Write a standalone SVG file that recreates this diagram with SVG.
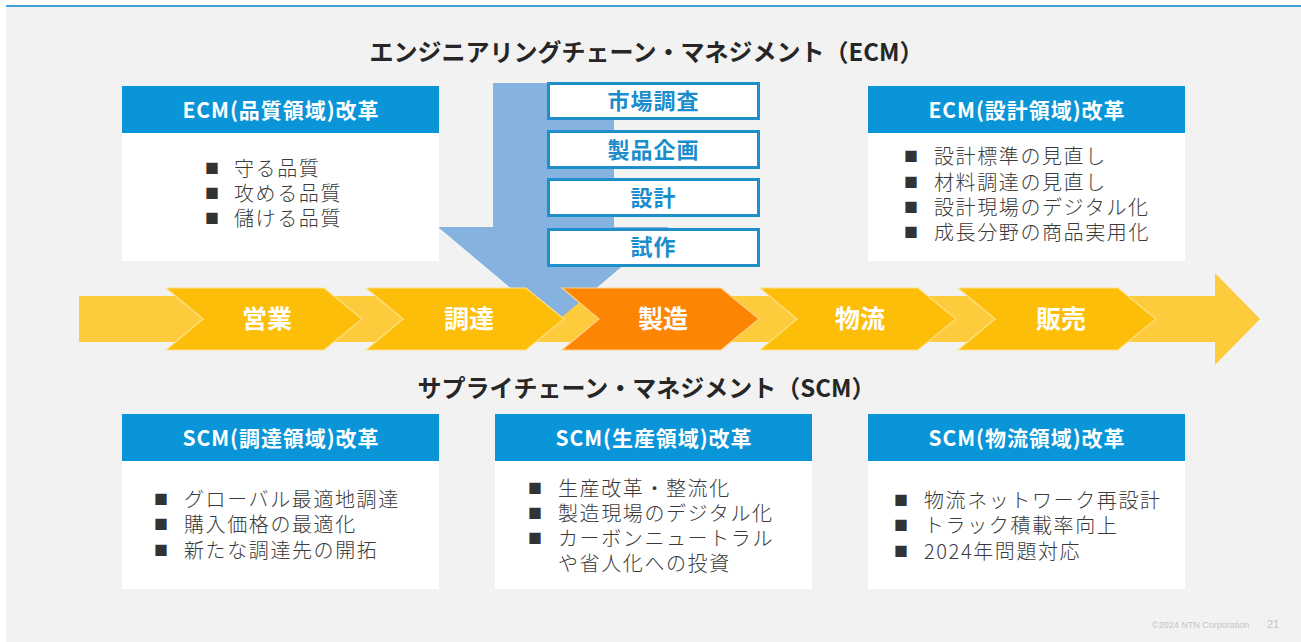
<svg xmlns="http://www.w3.org/2000/svg" width="1301" height="642" viewBox="0 0 1301 642">
<style>
.jp{font-family:"Noto Sans CJK JP","Noto Sans",sans-serif}
.title{font-size:24px;font-weight:bold;fill:#262626;text-anchor:middle}
.hdr{fill:#0a95d8}
.body{fill:#ffffff}
.htxt{font-size:21px;font-weight:bold;fill:#ffffff;text-anchor:middle}
.item{font-size:20px;font-weight:300;fill:#3a3a3a;letter-spacing:1.6px}
.blt{font-size:14px;fill:#333333}
.stage{fill:#ffffff;stroke:#1f8fca;stroke-width:3}
.stxt{font-size:22px;font-weight:bold;fill:#1b8dcd;text-anchor:middle;letter-spacing:1px}
.chev{fill:#fdbe0a;stroke:#ffe08a;stroke-width:1.2}
.chevo{fill:#fc8604;stroke:#ffd08a;stroke-width:1.2}
.ctxt{font-size:25px;font-weight:bold;fill:#ffffff;text-anchor:middle}
</style>
<rect x="0" y="0" width="1301" height="642" fill="#ffffff"/>
<rect x="6" y="5" width="1295" height="637" fill="#f2f2f2"/>
<rect x="6" y="5" width="1295" height="2" fill="#3f9fd6"/>

<text class="jp title" x="646.5" y="61">エンジニアリングチェーン・マネジメント（ECM）</text>
<text class="jp title" x="646.5" y="397">サプライチェーン・マネジメント（SCM）</text>

<g id="connectors">
  <path id="flow-band" d="M79,296 H1215 V273 L1260,319 L1215,365 V342 H79 Z" fill="#fecb3c"/>
  <path id="ecm-arrow" d="M493,83 H614 V227 H669 L553.5,324 L438,227 H493 Z" fill="#86b2df"/>
</g>

<g id="step-eigyo">
  <polygon class="chev" points="166,288 324,288 362,319 324,350 166,350 203,319"/>
  <text class="jp ctxt" x="267" y="328">営業</text>
</g>
<g id="step-chotatsu">
  <polygon class="chev" points="366,288 526,288 564,319 526,350 366,350 403,319"/>
  <text class="jp ctxt" x="469" y="328">調達</text>
</g>
<g id="step-seizo">
  <polygon class="chevo" points="562,288 721,288 759,319 721,350 562,350 599,319"/>
  <text class="jp ctxt" x="663" y="328">製造</text>
</g>
<g id="step-butsuryu">
  <polygon class="chev" points="760,288 918,288 956,319 918,350 760,350 797,319"/>
  <text class="jp ctxt" x="860" y="328">物流</text>
</g>
<g id="step-hanbai">
  <polygon class="chev" points="958,288 1118,288 1156,319 1118,350 958,350 995,319"/>
  <text class="jp ctxt" x="1061" y="328">販売</text>
</g>

<g id="stage-shijo">
  <rect class="stage" x="548.5" y="83.5" width="210" height="35"/>
  <text class="jp stxt" x="653.5" y="109.4">市場調査</text>
</g>
<g id="stage-kikaku">
  <rect class="stage" x="548.5" y="131.5" width="210" height="36"/>
  <text class="jp stxt" x="653.5" y="157.9">製品企画</text>
</g>
<g id="stage-sekkei">
  <rect class="stage" x="548.5" y="179.5" width="210" height="36"/>
  <text class="jp stxt" x="653.5" y="206.4">設計</text>
</g>
<g id="stage-shisaku">
  <rect class="stage" x="548.5" y="229.5" width="210" height="36"/>
  <text class="jp stxt" x="653.5" y="255.4">試作</text>
</g>

<g id="ecm-quality">
  <rect class="body" x="122" y="86" width="317" height="175"/>
  <rect class="hdr" x="122" y="86" width="317" height="47"/>
  <text class="jp htxt" x="280.5" y="117.5" textLength="196" lengthAdjust="spacing">ECM(品質領域)改革</text>
  <text class="jp blt" x="205" y="173.3">■</text>
  <text class="jp item" x="234" y="175.6">守る品質</text>
  <text class="jp blt" x="205" y="198.3">■</text>
  <text class="jp item" x="234" y="200.6">攻める品質</text>
  <text class="jp blt" x="205" y="223.3">■</text>
  <text class="jp item" x="234" y="225.6">儲ける品質</text>
</g>

<g id="ecm-design">
  <rect class="body" x="868" y="86" width="317" height="175"/>
  <rect class="hdr" x="868" y="86" width="317" height="47"/>
  <text class="jp htxt" x="1026.5" y="117.5" textLength="196" lengthAdjust="spacing">ECM(設計領域)改革</text>
  <text class="jp blt" x="904" y="161.3">■</text>
  <text class="jp item" x="934" y="163.6">設計標準の見直し</text>
  <text class="jp blt" x="904" y="187.3">■</text>
  <text class="jp item" x="934" y="189.6">材料調達の見直し</text>
  <text class="jp blt" x="904" y="212.3">■</text>
  <text class="jp item" x="934" y="214.6">設計現場のデジタル化</text>
  <text class="jp blt" x="904" y="237.3">■</text>
  <text class="jp item" x="934" y="239.6">成長分野の商品実用化</text>
</g>

<g id="scm-procurement">
  <rect class="body" x="122" y="414" width="317" height="175"/>
  <rect class="hdr" x="122" y="414" width="317" height="47"/>
  <text class="jp htxt" x="280.5" y="445.5" textLength="196" lengthAdjust="spacing">SCM(調達領域)改革</text>
  <text class="jp blt" x="154" y="504.3">■</text>
  <text class="jp item" x="184" y="506.6">グローバル最適地調達</text>
  <text class="jp blt" x="154" y="529.3">■</text>
  <text class="jp item" x="184" y="531.6">購入価格の最適化</text>
  <text class="jp blt" x="154" y="555.3">■</text>
  <text class="jp item" x="184" y="557.6">新たな調達先の開拓</text>
</g>

<g id="scm-production">
  <rect class="body" x="495" y="414" width="317" height="175"/>
  <rect class="hdr" x="495" y="414" width="317" height="47"/>
  <text class="jp htxt" x="653.5" y="445.5" textLength="196" lengthAdjust="spacing">SCM(生産領域)改革</text>
  <text class="jp blt" x="528" y="493.3">■</text>
  <text class="jp item" x="558" y="495.6">生産改革・整流化</text>
  <text class="jp blt" x="528" y="518.3">■</text>
  <text class="jp item" x="558" y="520.6">製造現場のデジタル化</text>
  <text class="jp blt" x="528" y="543.3">■</text>
  <text class="jp item" x="558" y="545.6">カーボンニュートラル</text>
  <text class="jp item" x="558" y="570.6">や省人化への投資</text>
</g>

<g id="scm-logistics">
  <rect class="body" x="868" y="414" width="317" height="175"/>
  <rect class="hdr" x="868" y="414" width="317" height="47"/>
  <text class="jp htxt" x="1026.5" y="445.5" textLength="196" lengthAdjust="spacing">SCM(物流領域)改革</text>
  <text class="jp blt" x="894" y="505.3">■</text>
  <text class="jp item" x="924" y="507.6">物流ネットワーク再設計</text>
  <text class="jp blt" x="894" y="530.3">■</text>
  <text class="jp item" x="924" y="532.6">トラック積載率向上</text>
  <text class="jp blt" x="894" y="556.3">■</text>
  <text class="jp item" x="924" y="558.6">2024年問題対応</text>
</g>

<g id="footer">
  <text x="1152" y="628" font-family="Liberation Sans, Arial, sans-serif" font-size="9" fill="#c4c4c4">©2024 NTN Corporation</text>
  <text x="1267" y="628" font-family="Liberation Sans, Arial, sans-serif" font-size="11" fill="#c4c4c4">21</text>
</g>
</svg>
